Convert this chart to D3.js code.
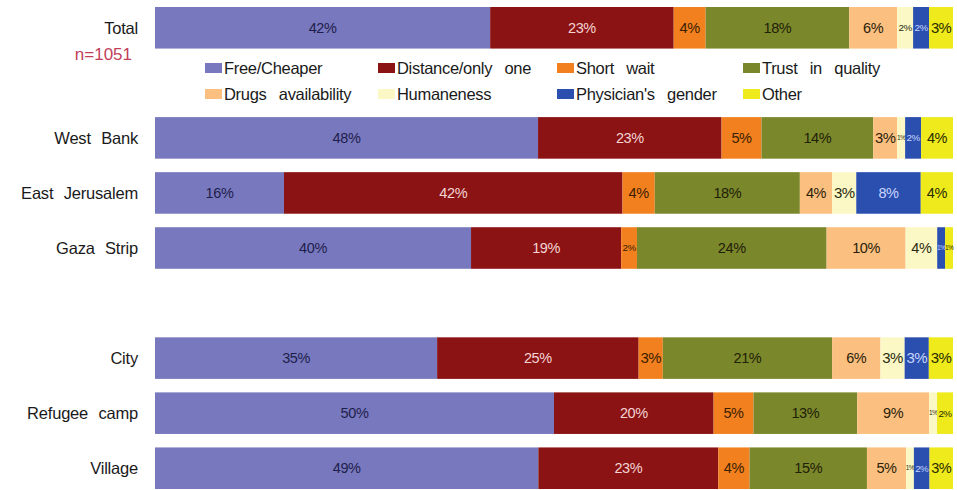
<!DOCTYPE html>
<html><head><meta charset="utf-8">
<script src="https://cdn.jsdelivr.net/npm/d3@7"></script>
<style>
body{margin:0;background:#fff;}
text{font-family:"Liberation Sans",Arial,sans-serif;}
</style></head><body>
<svg id="c" width="957" height="490"></svg>
<script>
const rows = ["Total","_legend","West Bank","East Jerusalem","Gaza Strip","_blank","City","Refugee camp","Village"];
const categories = ["Total","West Bank","East Jerusalem","Gaza Strip","City","Refugee camp","Village"];
const series = ["Free/Cheaper","Distance/only one","Short wait","Trust in quality","Drugs availability","Humaneness","Physician's gender","Other"];
const freeCheaper   = [42,48,16,40,35,50,49];
const distance      = [23,23,42,19,25,20,23];
const shortWait     = [4,5,4,2,3,5,4];
const trustQuality  = [18,14,18,24,21,13,15];
const drugs         = [6,3,4,10,6,9,5];
const humaneness    = [2,1,3,4,3,1,1];
const physician     = [2,2,8,1,3,0,2];
const other         = [3,4,4,1,3,2,3];
const colors = ["#7878bf","#8b1313","#f2801f","#7b872b","#fbbf80","#fbf8c6","#2b4fae","#eeea1c"];
const labelColors = ["#1e1e4a","#f4d4d4","#3a1e00","#1e2008","#2a1e08","#2a2a10","#c8d6ff","#2a2a00"];

const seriesVals = [freeCheaper,distance,shortWait,trustQuality,drugs,humaneness,physician,other];
const table = categories.map((c,i)=>{const o={cat:c}; series.forEach((s,j)=>o[s]=seriesVals[j][i]); return o;});
const stacked = d3.stack().keys(series).offset(d3.stackOffsetExpand)(table);

const svg = d3.select("#c");
const x = d3.scaleLinear().domain([0,1]).range([155,953]);
const y = d3.scaleBand().domain(rows).range([7,489]).paddingInner(0.245).paddingOuter(0);

const g = svg.append("g");
stacked.forEach((layer,j)=>{
  const lg = g.append("g");
  lg.selectAll("rect").data(layer).join("rect")
    .attr("x",d=>x(d[0])).attr("width",d=>x(d[1])-x(d[0]))
    .attr("y",d=>y(d.data.cat)).attr("height",y.bandwidth())
    .attr("fill",colors[j]);
  lg.selectAll("text").data(layer.filter(d=>d.data[series[j]]>0)).join("text")
    .attr("x",d=>(x(d[0])+x(d[1]))/2)
    .attr("y",d=>y(d.data.cat)+y.bandwidth()/2)
    .attr("dy","0.35em").attr("text-anchor","middle")
    .attr("font-size",d=>{const w=x(d[1])-x(d[0]); return w>=26?14.5:Math.max(6.5,w*0.62);})
    .attr("letter-spacing",d=>(x(d[1])-x(d[0]))>=26?-0.4:-0.6)
    .attr("fill",labelColors[j])
    .text(d=>d.data[series[j]]+"%");
});

// category labels
svg.append("g").selectAll("text").data(categories).join("text")
  .attr("x",138).attr("y",d=>y(d)+y.bandwidth()/2)
  .attr("dy","0.35em").attr("text-anchor","end")
  .attr("font-size",16.5).attr("fill","#1a1a1a").attr("letter-spacing",-0.2)
  .attr("word-spacing",6)
  .text(d=>d);

svg.append("text").attr("x",132).attr("y",54).attr("dy","0.35em")
  .attr("text-anchor","end").attr("font-size",17).attr("fill","#c2405a")
  .text("n=1051");

// legend
const legX = [205,378,557,743];
const legY = [68,94];
const leg = svg.append("g").selectAll("g").data(series).join("g")
  .attr("transform",(d,i)=>`translate(${legX[i%4]},${legY[Math.floor(i/4)]})`);
leg.append("rect").attr("x",0).attr("y",-5).attr("width",17).attr("height",10)
  .attr("fill",(d,i)=>colors[i]);
leg.append("text").attr("x",19).attr("y",0).attr("dy","0.35em")
  .attr("font-size",16.5).attr("fill","#1a1a1a").attr("letter-spacing",-0.3).attr("word-spacing",8)
  .text(d=>d);
</script>
</body></html>
